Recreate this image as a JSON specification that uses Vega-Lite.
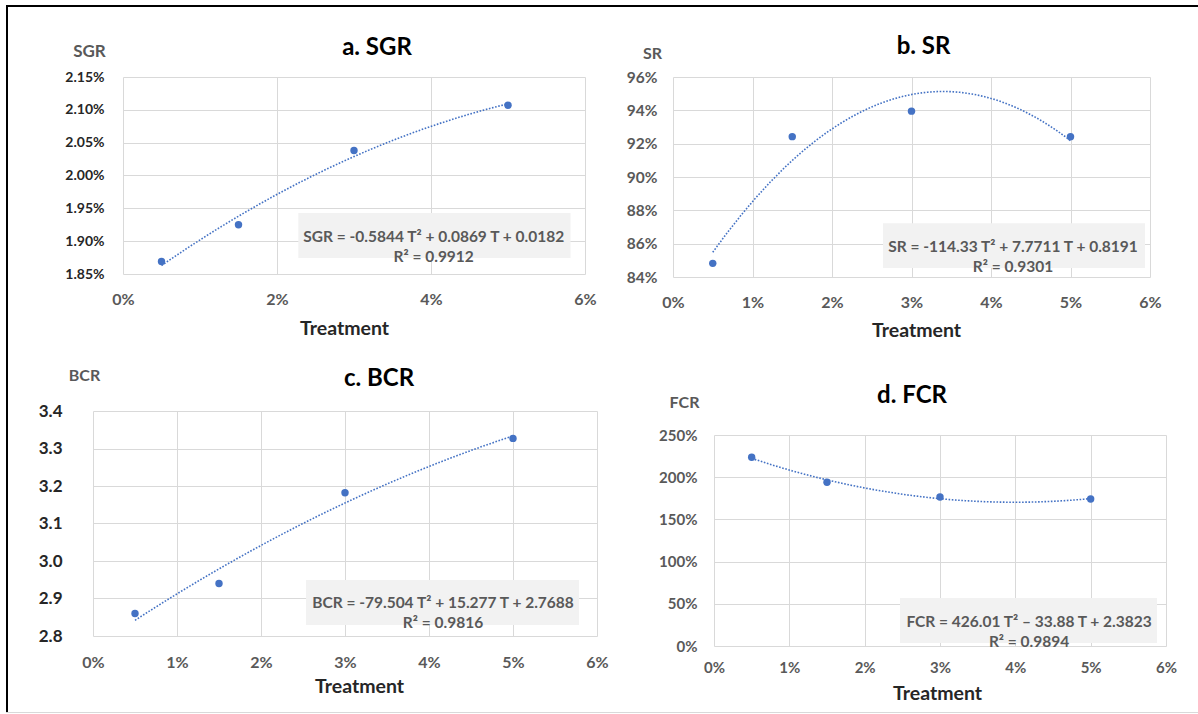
{
  "$schema": "https://vega.github.io/schema/vega-lite/v6.json",
  "background": "white",
  "padding": {"left": 6, "top": 5, "right": 0, "bottom": 0},
  "spacing": 0,
  "bounds": "flush",
  "config": {
    "view": {"stroke": null},
    "font": "Lato",
    "axis": {
      "grid": true, "gridColor": "#d9d9d9", "gridWidth": 1,
      "domain": false, "ticks": false, "tickSize": 0,
      "labelFont": "Lato", "labelFontWeight": "bold",
      "titleFont": "Lato", "titleFontWeight": "bold",
      "labelOverlap": false, "labelFlush": false, "labelBound": false
    },
    "title": {"font": "Lato", "fontWeight": "bold", "color": "#000000"}
  },
  "vconcat": [
    {"width": 1192, "height": 2, "data": {"values": []}, "mark": "point", "view": {"fill": "#000000", "stroke": null}},
    {
      "spacing": 0, "bounds": "flush",
      "hconcat": [
        {"width": 2, "height": 705, "data": {"values": []}, "mark": "point", "view": {"fill": "#000000", "stroke": null}}
      ]
    },
    {"width": 1, "height": 70, "data": {"values": []}, "mark": "point"},
    {
      "spacing": 0, "bounds": "flush",
      "hconcat": [
        {"width": 117, "height": 1, "data": {"values": []}, "mark": "point"},
        {
          "width": 462, "height": 197,
          "title": {"text": "a. SGR", "anchor": "middle", "frame": "group", "dx": 23, "offset": -18, "fontSize": 24},
          "data": {"values": [
            {"T": 0.005, "SGR": 0.01869},
            {"T": 0.015, "SGR": 0.01925},
            {"T": 0.03, "SGR": 0.02038},
            {"T": 0.05, "SGR": 0.02107}
          ]},
          "layer": [
            {
              "data": {"values": [{"eq": ["SGR = -0.5844 T² + 0.0869 T + 0.0182", "R² = 0.9912"]}]},
              "mark": {"type": "rect", "fill": "#f2f2f2"},
              "encoding": {"x": {"datum": 0.02277}, "x2": {"datum": 0.05812}, "y": {"datum": 0.019429}, "y2": {"datum": 0.018744}}
            },
            {
              "data": {"values": [{"eq": ["SGR = -0.5844 T² + 0.0869 T + 0.0182", "R² = 0.9912"]}]},
              "mark": {"type": "text", "font": "Lato", "fontWeight": "bold", "fontSize": 15.5, "color": "#595959", "lineHeight": 20, "baseline": "middle", "align": "center"},
              "encoding": {"x": {"datum": 0.04035}, "y": {"datum": 0.019063}, "text": {"field": "eq"}}
            },
            {
              "transform": [{"regression": "SGR", "on": "T", "method": "poly", "order": 2, "extent": [0.005, 0.05]}],
              "mark": {"type": "line", "color": "#4472C4", "strokeWidth": 1.6, "strokeDash": [1.6, 1.6]},
              "encoding": {"x": {"field": "T", "type": "quantitative"}, "y": {"field": "SGR", "type": "quantitative"}}
            },
            {
              "mark": {"type": "circle", "size": 55, "color": "#4472C4", "opacity": 1},
              "encoding": {
                "x": {"field": "T", "type": "quantitative",
                  "scale": {"domain": [0, 0.06], "nice": false, "zero": false},
                  "axis": {"values": [0, 0.02, 0.04, 0.06], "tickCount": 20, "format": ".0%", "labelOverlap": false, "labelFlush": false, "labelFontSize": 16, "labelColor": "#595959", "labelPadding": 17,
                    "title": "Treatment", "titleX": 221, "titleY": 54, "titleAlign": "center", "titleBaseline": "middle", "titleFontSize": 19.5, "titleColor": "#262626"}},
                "y": {"field": "SGR", "type": "quantitative",
                  "scale": {"domain": [0.0185, 0.0215], "nice": false, "zero": false},
                  "axis": {"values": [0.0185, 0.019, 0.0195, 0.02, 0.0205, 0.021, 0.0215], "tickCount": 20, "format": ".2%", "labelOverlap": false, "labelFlush": false, "labelFontSize": 14, "labelColor": "#262626", "labelPadding": 19,
                    "title": "SGR", "titleAngle": 0, "titleX": -34, "titleY": -26, "titleAlign": "center", "titleBaseline": "middle", "titleFontSize": 17, "titleColor": "#595959"}}
              }
            }
          ]
        },
        {"width": 88, "height": 1, "data": {"values": []}, "mark": "point"},
        {
          "width": 477, "height": 200,
          "title": {"text": "b. SR", "anchor": "middle", "frame": "group", "dx": 12, "offset": -14, "fontSize": 24},
          "data": {"values": [
            {"T": 0.005, "SR": 0.8482},
            {"T": 0.015, "SR": 0.9242},
            {"T": 0.03, "SR": 0.9395},
            {"T": 0.05, "SR": 0.9242}
          ]},
          "layer": [
            {
              "data": {"values": [{"eq": ["SR = -114.33 T² + 7.7711 T + 0.8191", "R² = 0.9301"]}]},
              "mark": {"type": "rect", "fill": "#f2f2f2"},
              "encoding": {"x": {"datum": 0.02642}, "x2": {"datum": 0.05937}, "y": {"datum": 0.87224}, "y2": {"datum": 0.84537}}
            },
            {
              "data": {"values": [{"eq": ["SR = -114.33 T² + 7.7711 T + 0.8191", "R² = 0.9301"]}]},
              "mark": {"type": "text", "font": "Lato", "fontWeight": "bold", "fontSize": 15.5, "color": "#595959", "lineHeight": 20, "baseline": "middle", "align": "center"},
              "encoding": {"x": {"datum": 0.04277}, "y": {"datum": 0.85821}, "text": {"field": "eq"}}
            },
            {
              "transform": [{"regression": "SR", "on": "T", "method": "poly", "order": 2, "extent": [0.005, 0.05]}],
              "mark": {"type": "line", "color": "#4472C4", "strokeWidth": 1.6, "strokeDash": [1.6, 1.6]},
              "encoding": {"x": {"field": "T", "type": "quantitative"}, "y": {"field": "SR", "type": "quantitative"}}
            },
            {
              "mark": {"type": "circle", "size": 55, "color": "#4472C4", "opacity": 1},
              "encoding": {
                "x": {"field": "T", "type": "quantitative",
                  "scale": {"domain": [0, 0.06], "nice": false, "zero": false},
                  "axis": {"values": [0, 0.01, 0.02, 0.03, 0.04, 0.05, 0.06], "tickCount": 20, "format": ".0%", "labelOverlap": false, "labelFlush": false, "labelFontSize": 16, "labelColor": "#595959", "labelPadding": 17,
                    "title": "Treatment", "titleX": 243, "titleY": 53, "titleAlign": "center", "titleBaseline": "middle", "titleFontSize": 19.5, "titleColor": "#262626"}},
                "y": {"field": "SR", "type": "quantitative",
                  "scale": {"domain": [0.84, 0.96], "nice": false, "zero": false},
                  "axis": {"values": [0.84, 0.86, 0.88, 0.9, 0.92, 0.94, 0.96], "tickCount": 20, "format": ".0%", "labelOverlap": false, "labelFlush": false, "labelFontSize": 15.5, "labelColor": "#595959", "labelPadding": 16,
                    "title": "SR", "titleAngle": 0, "titleX": -21, "titleY": -24, "titleAlign": "center", "titleBaseline": "middle", "titleFontSize": 16, "titleColor": "#595959"}}
              }
            }
          ]
        }
      ]
    },
    {"width": 1, "height": 334, "data": {"values": []}, "mark": "point"},
    {
      "spacing": 0, "bounds": "flush",
      "hconcat": [
        {"width": 87, "height": 1, "data": {"values": []}, "mark": "point"},
        {
          "width": 504, "height": 225,
          "title": {"text": "c. BCR", "anchor": "middle", "frame": "group", "dx": 34, "offset": -24, "fontSize": 24},
          "data": {"values": [
            {"T": 0.005, "BCR": 2.86},
            {"T": 0.015, "BCR": 2.94},
            {"T": 0.03, "BCR": 3.182},
            {"T": 0.05, "BCR": 3.327}
          ]},
          "layer": [
            {
              "data": {"values": [{"eq": ["BCR = -79.504 T² + 15.277 T + 2.7688", "R² = 0.9816"]}]},
              "mark": {"type": "rect", "fill": "#f2f2f2"},
              "encoding": {"x": {"datum": 0.02536}, "x2": {"datum": 0.05786}, "y": {"datum": 2.9493}, "y2": {"datum": 2.8293}}
            },
            {
              "data": {"values": [{"eq": ["BCR = -79.504 T² + 15.277 T + 2.7688", "R² = 0.9816"]}]},
              "mark": {"type": "text", "font": "Lato", "fontWeight": "bold", "fontSize": 15.5, "color": "#595959", "lineHeight": 20, "baseline": "middle", "align": "center"},
              "encoding": {"x": {"datum": 0.04167}, "y": {"datum": 2.888}, "text": {"field": "eq"}}
            },
            {
              "transform": [{"regression": "BCR", "on": "T", "method": "poly", "order": 2, "extent": [0.005, 0.05]}],
              "mark": {"type": "line", "color": "#4472C4", "strokeWidth": 1.6, "strokeDash": [1.6, 1.6]},
              "encoding": {"x": {"field": "T", "type": "quantitative"}, "y": {"field": "BCR", "type": "quantitative"}}
            },
            {
              "mark": {"type": "circle", "size": 55, "color": "#4472C4", "opacity": 1},
              "encoding": {
                "x": {"field": "T", "type": "quantitative",
                  "scale": {"domain": [0, 0.06], "nice": false, "zero": false},
                  "axis": {"values": [0, 0.01, 0.02, 0.03, 0.04, 0.05, 0.06], "tickCount": 20, "format": ".0%", "labelOverlap": false, "labelFlush": false, "labelFontSize": 16, "labelColor": "#595959", "labelPadding": 18,
                    "title": "Treatment", "titleX": 266, "titleY": 50, "titleAlign": "center", "titleBaseline": "middle", "titleFontSize": 19.5, "titleColor": "#262626"}},
                "y": {"field": "BCR", "type": "quantitative",
                  "scale": {"domain": [2.8, 3.4], "nice": false, "zero": false},
                  "axis": {"values": [2.8, 2.9, 3.0, 3.1, 3.2, 3.3, 3.4], "tickCount": 20, "format": ".1f", "labelOverlap": false, "labelFlush": false, "labelFontSize": 17, "labelColor": "#262626", "labelPadding": 31,
                    "title": "BCR", "titleAngle": 0, "titleX": -9, "titleY": -36, "titleAlign": "center", "titleBaseline": "middle", "titleFontSize": 16, "titleColor": "#595959"}}
              }
            }
          ]
        },
        {"width": 117, "height": 1, "data": {"values": []}, "mark": "point"},
        {
          "spacing": 0, "bounds": "flush",
          "vconcat": [
            {"width": 1, "height": 24, "data": {"values": []}, "mark": "point"},
            {
              "width": 452, "height": 211,
              "title": {"text": "d. FCR", "anchor": "middle", "frame": "group", "dx": -28, "offset": -14, "fontSize": 24},
              "data": {"values": [
                {"T": 0.005, "FCR": 2.236},
                {"T": 0.015, "FCR": 1.94},
                {"T": 0.03, "FCR": 1.765},
                {"T": 0.05, "FCR": 1.742}
              ]},
              "layer": [
                {
                  "data": {"values": [{"eq": ["FCR = 426.01 T² – 33.88 T + 2.3823", "R² = 0.9894"]}]},
                  "mark": {"type": "rect", "fill": "#f2f2f2"},
                  "encoding": {"x": {"datum": 0.02469}, "x2": {"datum": 0.05881}, "y": {"datum": 0.5687}, "y2": {"datum": 0.0355}}
                },
                {
                  "data": {"values": [{"eq": ["FCR = 426.01 T² – 33.88 T + 2.3823", "R² = 0.9894"]}]},
                  "mark": {"type": "text", "font": "Lato", "fontWeight": "bold", "fontSize": 15.5, "color": "#595959", "lineHeight": 20, "baseline": "middle", "align": "center"},
                  "encoding": {"x": {"datum": 0.04182}, "y": {"datum": 0.2844}, "text": {"field": "eq"}}
                },
                {
                  "transform": [{"regression": "FCR", "on": "T", "method": "poly", "order": 2, "extent": [0.005, 0.05]}],
                  "mark": {"type": "line", "color": "#4472C4", "strokeWidth": 1.6, "strokeDash": [1.6, 1.6]},
                  "encoding": {"x": {"field": "T", "type": "quantitative"}, "y": {"field": "FCR", "type": "quantitative"}}
                },
                {
                  "mark": {"type": "circle", "size": 55, "color": "#4472C4", "opacity": 1},
                  "encoding": {
                    "x": {"field": "T", "type": "quantitative",
                      "scale": {"domain": [0, 0.06], "nice": false, "zero": false},
                      "axis": {"values": [0, 0.01, 0.02, 0.03, 0.04, 0.05, 0.06], "tickCount": 20, "format": ".0%", "labelOverlap": false, "labelFlush": false, "labelFontSize": 15, "labelColor": "#595959", "labelPadding": 14,
                        "title": "Treatment", "titleX": 223, "titleY": 47, "titleAlign": "center", "titleBaseline": "middle", "titleFontSize": 19.5, "titleColor": "#262626"}},
                    "y": {"field": "FCR", "type": "quantitative",
                      "scale": {"domain": [0, 2.5], "nice": false, "zero": false},
                      "axis": {"values": [0, 0.5, 1, 1.5, 2, 2.5], "tickCount": 20, "format": ".0%", "labelOverlap": false, "labelFlush": false, "labelFontSize": 15, "labelColor": "#595959", "labelPadding": 17,
                        "title": "FCR", "titleAngle": 0, "titleX": -30, "titleY": -33, "titleAlign": "center", "titleBaseline": "middle", "titleFontSize": 16, "titleColor": "#595959"}}
                  }
                }
              ]
            }
          ]
        }
      ]
    },
    {"width": 1, "height": 301, "data": {"values": []}, "mark": "point"},
    {"width": 1192, "height": 1, "data": {"values": []}, "mark": "point", "view": {"fill": "#d9d9d9", "stroke": null}}
  ]
}
